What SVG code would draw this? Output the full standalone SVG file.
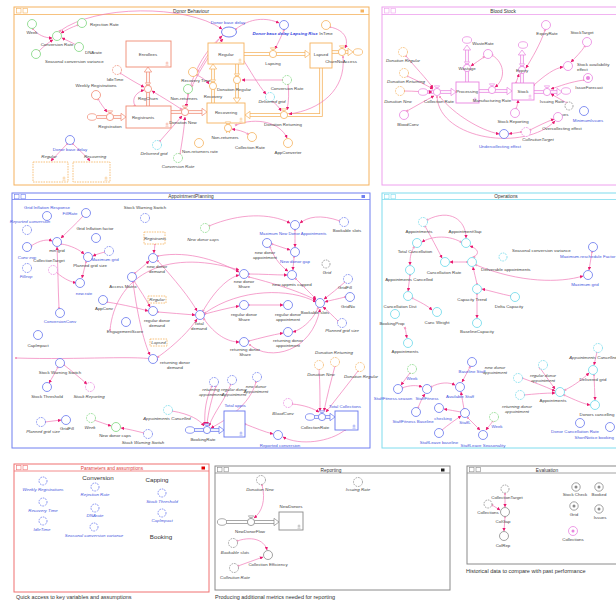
<svg xmlns="http://www.w3.org/2000/svg" width="616" height="602" viewBox="0 0 616 602">
<defs>
<style>
text{font-family:"Liberation Sans",Arial,sans-serif;font-size:4.4px;fill:#444;text-anchor:middle}
.s{text-anchor:start}
.e{text-anchor:end}
.b{fill:#4455dd}
.i{font-style:italic}
.bb{font-weight:bold;font-style:italic;fill:#3344dd}
.ttl{font-size:4.8px;fill:#333}
.hd{font-size:6.2px;fill:#333}
.cap{font-size:5.5px;fill:#333;text-anchor:start}
circle.n{fill:#fff;stroke-width:0.8}
.d{stroke-dasharray:1.6 1}
.cb{stroke:#6676ee}.cc{stroke:#6ad8ea}.cg{stroke:#7ed67e}.co{stroke:#f5b25e}.cp{stroke:#e884e0}.cs{stroke:#f08a72}.ck{stroke:#8a8a8a}
.k{fill:none;stroke:#f07ab8;stroke-width:0.7;marker-start:url(#o);marker-end:url(#a)}
.st{fill:#fff;stroke-width:0.9;stroke:currentColor}
.po{fill:none;stroke:currentColor;stroke-width:3.4}
.pi{fill:none;stroke:#fff;stroke-width:1.8}
.ah{fill:#fff;stroke:currentColor;stroke-width:0.7}
.fb{fill:#fff;stroke:currentColor;stroke-width:1}
.fl{stroke:currentColor;stroke-width:0.8}
.ic{fill:none;stroke:currentColor;stroke-width:0.6}
</style>
<marker id="a" viewBox="0 0 6 6" refX="5.5" refY="3" markerWidth="3.4" markerHeight="3.4" markerUnits="userSpaceOnUse" orient="auto"><path d="M0,0L6,3L0,6z" fill="#e8186e"/></marker>
<marker id="o" viewBox="0 0 6 6" refX="3" refY="3" markerWidth="2.6" markerHeight="2.6" markerUnits="userSpaceOnUse" orient="auto"><circle cx="3" cy="3" r="2.2" fill="#fff" stroke="#e8186e" stroke-width="1"/></marker>
<g id="v"><path d="M-2.6,-6.2h5.2l-1,1.6h-3.2z" fill="#fff" stroke="currentColor" stroke-width="0.6"/><path d="M0,-4.6v1" stroke="currentColor" stroke-width="0.6"/><circle r="3.6" fill="#fff" stroke="currentColor" stroke-width="0.8"/></g>
<g id="cl"><ellipse rx="4.6" ry="3.3" fill="#fff" stroke="currentColor" stroke-width="0.7"/></g>
<g id="sm"><path d="M-1.5,0h3M0,-1.5v3M-1.5,2.2h3" stroke="currentColor" stroke-width="0.5" fill="none"/></g>
</defs>
<rect width="616" height="602" fill="#fff"/>

<!-- FRAMES -->
<g id="frame-donor" style="color:#f5b25e">
<rect class="fb" x="14" y="7" width="355" height="178"/>
<line class="fl" x1="14" y1="14.5" x2="369" y2="14.5"/>
<rect class="ic" x="16.5" y="8.5" width="4.5" height="4.5"/><rect class="ic" x="23" y="8.5" width="4.5" height="4.5"/>
<text class="ttl" x="191" y="12.8">Donor Behaviour</text>
<rect x="360.5" y="9.5" width="3.5" height="3" fill="currentColor"/>
</g>
<g id="frame-blood" style="color:#eea0ee">
<rect class="fb" x="382" y="7" width="245" height="178"/>
<line class="fl" x1="382" y1="14.5" x2="627" y2="14.5"/>
<rect class="ic" x="384.5" y="8.5" width="4.5" height="4.5"/><rect class="ic" x="391" y="8.5" width="4.5" height="4.5"/>
<text class="ttl" x="503" y="12.8">Blood Stock</text>
</g>
<g id="frame-appt" style="color:#6f7ff0">
<rect class="fb" x="12" y="193" width="358" height="255"/>
<line class="fl" x1="12" y1="199.5" x2="370" y2="199.5"/>
<rect class="ic" x="14.5" y="194.3" width="4.5" height="4.5"/><rect class="ic" x="21" y="194.3" width="4.5" height="4.5"/>
<text class="ttl" x="191" y="198.2">AppointmentPlanning</text>
<rect x="361.5" y="195" width="3.5" height="3" fill="currentColor"/>
</g>
<g id="frame-ops" style="color:#7fdcee">
<rect class="fb" x="382" y="193" width="245" height="255"/>
<line class="fl" x1="382" y1="199.5" x2="627" y2="199.5"/>
<rect class="ic" x="384.5" y="194.3" width="4.5" height="4.5"/><rect class="ic" x="391" y="194.3" width="4.5" height="4.5"/>
<text class="ttl" x="506" y="198.2">Operations</text>
</g>
<g id="frame-params" style="color:#f07070">
<rect class="fb" x="14" y="464" width="195" height="128"/>
<line class="fl" x1="14" y1="471" x2="209" y2="471"/>
<rect class="ic" x="16.5" y="465.3" width="4.5" height="4.5"/><rect class="ic" x="23" y="465.3" width="4.5" height="4.5"/>
<text class="ttl" x="112" y="469.5" style="fill:#e04040">Parameters and assumptions</text>
<rect x="201.5" y="466.5" width="3.5" height="3" fill="#e00000"/>
</g>
<g id="frame-report" style="color:#8a8a8a">
<rect class="fb" x="215" y="466" width="235" height="124"/>
<line class="fl" x1="215" y1="473" x2="450" y2="473"/>
<rect class="ic" x="217.5" y="467.3" width="4.5" height="4.5"/><rect class="ic" x="224" y="467.3" width="4.5" height="4.5"/>
<text class="ttl" x="331" y="471.5">Reporting</text>
<rect x="441" y="468.5" width="3.5" height="3" fill="#222"/>
</g>
<g id="frame-eval" style="color:#8a8a8a">
<rect class="fb" x="467" y="466" width="160" height="98"/>
<line class="fl" x1="467" y1="473" x2="627" y2="473"/>
<rect class="ic" x="469.5" y="467.3" width="4.5" height="4.5"/><rect class="ic" x="476" y="467.3" width="4.5" height="4.5"/>
<text class="ttl" x="547" y="471.5">Evaluation</text>
</g>
<text class="cap" x="16" y="599">Quick access to key variables and assumptions</text>
<text class="cap" x="215" y="599">Producing additional metrics needed for reporting</text>
<text class="cap" x="466" y="573">Historical data to compare with past performance</text>

<!-- FLOW PIPES -->
<g id="pipes">
<g style="color:#f08a72">
<path class="po" d="M148,106V72"/><path class="pi" d="M148,106V72"/><polygon class="ah" points="144.3,72 151.7,72 148,67"/>
<path class="po" d="M97,117H121"/><path class="pi" d="M97,117H121"/><polygon class="ah" points="121,113.3 121,120.7 126,117"/>
<path class="po" d="M171,112H202"/><path class="pi" d="M171,112H202"/><polygon class="ah" points="202,108.3 202,115.7 207,112"/>
</g>
<g style="color:#f5b25e">
<path class="po" d="M244,54H305"/><path class="pi" d="M244,54H305"/><polygon class="ah" points="305,50.3 305,57.7 310,54"/>
<path class="po" d="M332,52H348"/><path class="pi" d="M332,52H348"/><polygon class="ah" points="348,48.3 348,55.7 353,52"/>
<path class="po" d="M213,103V69"/><path class="pi" d="M213,103V69"/><polygon class="ah" points="209.3,69 216.7,69 213,64"/>
<path class="po" d="M237,64V98"/><path class="pi" d="M237,64V98"/><polygon class="ah" points="233.3,98 240.7,98 237,103"/>
<path class="po" d="M321,68V115H250"/><path class="pi" d="M321,68V115H250"/><polygon class="ah" points="250,111.3 250,118.7 245,115"/>
<path class="po" d="M228,123V133"/><path class="pi" d="M228,123V133"/>
</g>
<g style="color:#e884e0">
<path class="po" d="M427,92H451"/><path class="pi" d="M427,92H451"/><polygon class="ah" points="451,88.3 451,95.7 456,92"/>
<path class="po" d="M467,82V50"/><path class="pi" d="M467,82V50"/><polygon class="ah" points="463.3,50 470.7,50 467,45"/>
<path class="po" d="M479,91H507"/><path class="pi" d="M479,91H507"/><polygon class="ah" points="507,87.3 507,94.7 512,91"/>
<path class="po" d="M522,83V55"/><path class="pi" d="M522,83V55"/><polygon class="ah" points="518.3,55 525.7,55 522,50"/>
<path class="po" d="M534,92H557"/><path class="pi" d="M534,92H557"/><polygon class="ah" points="557,88.3 557,95.7 562,92"/>
</g>
<g style="color:#6676ee">
<path class="po" d="M194,430H219"/><path class="pi" d="M194,430H219"/><polygon class="ah" points="219,426.3 219,433.7 224,430"/>
<path class="po" d="M314,417H330"/><path class="pi" d="M314,417H330"/><polygon class="ah" points="330,413.3 330,420.7 335,417"/>
</g>
<g style="color:#8a8a8a">
<path class="po" d="M226,522H274"/><path class="pi" d="M226,522H274"/><polygon class="ah" points="274,518.3 274,525.7 279,522"/>
</g>
</g>

<!-- CONNECTORS -->
<g id="connectors">
<path class="k" d="M33,29C38,35 45,38 52,38"/>
<path class="k" d="M78,25C72,27 66,30 61,33"/>
<path class="k" d="M76,45C71,42 66,40 62,38"/>
<path class="k" d="M39,51C44,46 49,42 53,40"/>
<path class="k" d="M60,31C95,5 185,4 222,29"/>
<path class="k" d="M223,35C200,55 190,80 186,107"/>
<path class="k" d="M198,71C205,60 213,45 222,36"/>
<path class="k" d="M192,86C200,70 212,50 223,39"/>
<path class="k" d="M197,75C203,78 207,81 209,84"/>
<path class="k" d="M236,29C250,18 266,17 279,23"/>
<path class="k" d="M284,30C281,37 278,43 275,49"/>
<path class="k" d="M330,27C345,30 349,40 345,48"/>
<path class="k" d="M343,57C346,90 320,110 289,114"/>
<path class="k" d="M120,73C128,78 136,83 144,87"/>
<path class="k" d="M135,106C131,98 137,92 144,90"/>
<path class="k" d="M181,109C172,103 162,97 152,91"/>
<path class="k" d="M98,99C101,104 104,108 107,112"/>
<path class="k" d="M160,141C167,133 175,124 182,116"/>
<path class="k" d="M180,154C182,142 184,130 185,117"/>
<path class="k" d="M188,94C188,98 187,102 186,107"/>
<path class="k" d="M283,80C270,80 255,80 242,80"/>
<path class="k" d="M288,84C289,92 289,100 287,110"/>
<path class="k" d="M272,101C276,104 279,107 281,111"/>
<path class="k" d="M242,58C250,70 258,85 266,94"/>
<path class="k" d="M236,125C256,117 280,122 287,138"/>
<path class="k" d="M248,134C243,131 238,130 232,129"/>
<path class="k" d="M67,144C62,150 56,155 51,161"/>
<path class="k" d="M73,144C79,150 85,155 90,161"/>

<path class="k" d="M406,56C415,67 426,78 433,88"/>
<path class="k" d="M407,76C416,80 426,85 433,89"/>
<path class="k" d="M404,91C414,91 423,92 432,92"/>
<path class="k" d="M407,111C416,106 426,100 434,96"/>
<path class="k" d="M484,57C480,60 475,63 471,66"/>
<path class="k" d="M492,55C506,64 505,80 495,87"/>
<path class="k" d="M545,30C540,45 532,58 526,68"/>
<path class="k" d="M585,46C581,52 576,57 571,62"/>
<path class="k" d="M534,85C545,75 555,68 563,67"/>
<path class="k" d="M516,83C517,80 518,77 519,74"/>
<path class="k" d="M516,109C517,106 518,103 518,100"/>
<path class="k" d="M584,80C570,82 560,86 551,89"/>
<path class="k" d="M567,103C562,100 556,97 551,94"/>
<path class="k" d="M440,97C455,115 480,130 499,134"/>
<path class="k" d="M437,97C440,140 525,152 555,121"/>
<path class="k" d="M521,132C517,133 513,133 509,134"/>
<path class="k" d="M530,130C538,126 546,122 554,119"/>

<path class="k" d="M83,216C76,224 68,231 61,238"/>
<path class="k" d="M31,246C40,240 48,239 52,241"/>
<path class="k" d="M61,244C70,245 80,250 84,254"/>
<path class="k" d="M105,252C101,253 97,254 93,256"/>
<path class="k" d="M56,272C65,280 72,282 76,283"/>
<path class="k" d="M59,308C58,288 58,268 57,247"/>
<path class="k" d="M86,262C85,267 83,273 82,278"/>
<path class="k" d="M155,244C155,247 154,250 154,253"/>
<path class="k" d="M135,273C140,269 145,265 149,261"/>
<path class="k" d="M134,281C140,290 146,299 150,307"/>
<path class="k" d="M133,282C138,320 145,345 150,355"/>
<path class="k" d="M158,261C175,280 190,298 197,311"/>
<path class="k" d="M158,312C170,313 183,314 195,315"/>
<path class="k" d="M158,357C175,345 190,330 197,319"/>
<path class="k" d="M203,311C215,290 228,278 239,275"/>
<path class="k" d="M205,314C216,311 228,308 239,306"/>
<path class="k" d="M204,319C215,335 228,342 239,342"/>
<path class="k" d="M158,256C190,250 220,262 239,272"/>
<path class="k" d="M110,330C115,280 160,246 239,270"/>
<path class="k" d="M107,302C125,305 138,308 148,311"/>
<path class="k" d="M249,274C262,274 275,275 287,275"/>
<path class="k" d="M270,247C275,260 283,268 288,271"/>
<path class="k" d="M294,257C294,261 293,265 293,270"/>
<path class="k" d="M272,244C278,246 284,248 290,250"/>
<path class="k" d="M295,230C295,236 295,241 295,247"/>
<path class="k" d="M209,226C240,213 270,213 290,223"/>
<path class="k" d="M340,221C320,214 308,217 300,223"/>
<path class="k" d="M249,305C260,305 272,305 283,305"/>
<path class="k" d="M249,341C260,338 272,335 283,333"/>
<path class="k" d="M345,282C338,288 331,294 324,299"/>
<path class="k" d="M345,297C338,299 331,300 325,302"/>
<path class="k" d="M338,321C333,316 328,311 323,307"/>
<path class="k" d="M296,279C303,286 310,293 316,299"/>
<path class="k" d="M249,277C280,285 300,292 316,300"/>
<path class="k" d="M205,313C240,288 290,288 316,302"/>
<path class="k" d="M318,308C312,322 300,330 293,332"/>
<path class="k" d="M250,345C270,362 312,352 320,309"/>
<path class="k" d="M16,358C80,360 140,355 158,360"/>
<path class="k" d="M58,367C55,373 52,378 49,383"/>
<path class="k" d="M64,365C72,371 80,378 87,384"/>
<path class="k" d="M45,422C50,421 56,421 61,420"/>
<path class="k" d="M94,420C100,422 105,424 111,426"/>
<path class="k" d="M144,433C136,431 128,429 121,428"/>
<path class="k" d="M172,411C190,414 200,420 204,426"/>
<path class="k" d="M212,386C206,398 204,412 205,425"/>
<path class="k" d="M216,386C212,398 208,412 207,425"/>
<path class="k" d="M231,384C225,400 214,412 209,426"/>
<path class="k" d="M256,382C250,405 226,420 211,428"/>
<path class="k" d="M292,404C305,405 314,409 319,412"/>
<path class="k" d="M319,369C320,383 320,397 320,411"/>
<path class="k" d="M335,366C331,381 327,396 324,411"/>
<path class="k" d="M358,371C348,384 337,398 326,412"/>
<path class="k" d="M245,424C255,428 265,432 273,434"/>
<path class="k" d="M345,430C330,442 300,446 283,437"/>

<path class="k" d="M427,220C450,208 466,220 466,238"/>
<path class="k" d="M425,226C431,237 437,248 442,258"/>
<path class="k" d="M461,242C446,234 430,237 422,242"/>
<path class="k" d="M414,247C410,254 410,259 410,265"/>
<path class="k" d="M467,262C461,262 456,262 450,262"/>
<path class="k" d="M474,257C480,253 478,249 470,246"/>
<path class="k" d="M477,284C476,278 474,273 473,267"/>
<path class="k" d="M511,296C501,294 491,291 482,289"/>
<path class="k" d="M476,265C520,283 560,283 583,276"/>
<path class="k" d="M592,252C591,258 590,264 589,270"/>
<path class="k" d="M410,275C409,280 409,286 408,291"/>
<path class="k" d="M412,298C420,302 428,306 432,310"/>
<path class="k" d="M477,294C477,302 477,310 477,318"/>
<path class="k" d="M405,328C406,331 406,334 407,338"/>
<path class="k" d="M410,373C407,377 404,381 401,385"/>
<path class="k" d="M402,388C410,385 417,385 422,387"/>
<path class="k" d="M431,387C440,382 449,382 455,385"/>
<path class="k" d="M418,408C420,403 422,398 425,394"/>
<path class="k" d="M470,367C467,372 465,377 462,382"/>
<path class="k" d="M464,409C463,403 462,398 461,392"/>
<path class="k" d="M461,412C455,411 450,410 444,409"/>
<path class="k" d="M442,430C448,425 455,420 461,416"/>
<path class="k" d="M493,421C491,424 488,427 486,430"/>
<path class="k" d="M468,418C472,422 476,426 480,430"/>
<path class="k" d="M540,368C545,375 550,382 555,389"/>
<path class="k" d="M522,378C533,382 544,386 555,391"/>
<path class="k" d="M524,395C534,394 545,393 555,393"/>
<path class="k" d="M565,390C575,385 584,378 589,373"/>
<path class="k" d="M597,352C596,356 595,361 594,365"/>
<path class="k" d="M564,395C575,400 584,404 590,405"/>
<path class="k" d="M594,375C594,383 595,392 595,400"/>

<path class="k" d="M262,485C266,500 262,512 254,518"/>
<path class="k" d="M237,541C255,535 265,542 267,550"/>
<path class="k" d="M238,566C246,563 255,560 263,557"/>
<path class="k" d="M505,494C505,498 505,503 505,507"/>
<path class="k" d="M492,505C495,507 497,508 500,510"/>
<path class="k" d="M505,517C505,522 504,526 504,531"/>
</g>

<!-- DONOR BEHAVIOUR NODES -->
<g id="n-week"><circle class="n cg" cx="32" cy="24" r="4.5"/><text x="32" y="33.5">Week</text></g>
<g id="n-rejection"><circle class="n cg" cx="82" cy="23" r="4.5"/><text class="s" x="90" y="25.5">Rejection Rate</text></g>
<g id="n-conversion"><circle class="n cg" cx="57" cy="36" r="4.5"/><text x="57" y="46">Conversion Rate</text></g>
<g id="n-dna"><circle class="n cg" cx="79" cy="47" r="4.5"/><text class="s" x="85" y="53.5">DNArate</text></g>
<g id="n-seasonal"><circle class="n cg" cx="36" cy="54" r="4.5"/><text class="s" x="45" y="63">Seasonal conversion variance</text></g>
<g id="n-enrollees" style="color:#f08a72"><rect class="st" x="126" y="41" width="45" height="26"/><use href="#sm" x="167" y="63"/><text x="148" y="55.5">Enrollees</text></g>
<g id="n-idle"><circle class="n cs d" cx="117" cy="70" r="4.5"/><text x="115" y="81">IdleTime</text></g>
<g id="n-weeklyreg"><circle class="n cs" cx="96" cy="95" r="4.5"/><text x="96" y="86.5">Weekly Registrations</text></g>
<g id="n-regchurn" style="color:#f08a72"><use href="#v" x="148" y="89"/><text x="148" y="99.5">RegChurn</text></g>
<g id="n-registration" style="color:#f08a72"><use href="#cl" x="92" y="117"/><use href="#v" x="110" y="117"/><text x="110" y="128">Registration</text></g>
<g id="n-registrants" style="color:#f08a72"><rect class="st" x="126" y="106" width="45" height="22"/><use href="#sm" x="167" y="124"/><text x="143" y="118.5">Registrants</text></g>
<g id="n-donationnew" style="color:#f08a72"><use href="#v" x="185" y="112"/><text x="183" y="124">Donation New</text></g>
<g id="n-recoverytime"><circle class="n co" cx="193" cy="72" r="4.5"/><text x="196" y="81.5">Recovery Time</text></g>
<g id="n-nonret-g"><circle class="n cg" cx="188" cy="89" r="4.5"/><text x="184" y="99.5">Non-returners</text></g>
<g id="n-delgrid1"><circle class="n cc d" cx="157" cy="145" r="4.5"/><text class="i" x="154" y="154.5">Delivered grid</text></g>
<g id="n-convrate2"><circle class="n cg d" cx="178" cy="158" r="4.5"/><text class="i" x="178" y="168">Conversion Rate</text></g>
<g id="n-nonretrate"><circle class="n co" cx="199" cy="143" r="4.5"/><text x="200" y="153">Non-returners rate</text></g>
<g id="n-donorbasedelay"><ellipse cx="229" cy="32" rx="7.5" ry="5" fill="#fff" stroke="#6676ee" stroke-width="0.9"/><text class="b" x="228" y="24">Donor base delay</text></g>
<g id="n-lapsingrise"><circle class="n cb" cx="284" cy="25" r="4.5"/><text class="bb" x="285" y="35">Donor base delay Lapsing Rise</text></g>
<g id="n-intime"><circle class="n co" cx="326" cy="25" r="4.5"/><text x="326" y="35">InTime</text></g>
<g id="n-regular" style="color:#f5b25e"><rect class="st" x="208" y="43" width="36" height="21"/><use href="#sm" x="240" y="60"/><text x="226" y="55.5">Regular</text></g>
<g id="n-lapsing" style="color:#f5b25e"><use href="#v" x="273" y="54"/><text x="273" y="65">Lapsing</text></g>
<g id="n-lapsed" style="color:#f5b25e"><rect class="st" x="310" y="43" width="22" height="25"/><text x="321" y="55.5">Lapsed</text></g>
<g id="n-churn" style="color:#f5b25e"><use href="#v" x="342" y="52"/><use href="#cl" x="358" y="52"/><text x="341" y="63">ChurnNoAccess</text></g>
<g id="n-recovery" style="color:#f5b25e"><use href="#v" x="213" y="86"/><text x="213" y="97.5">Recovery</text></g>
<g id="n-donreg" style="color:#f5b25e"><use href="#v" x="237" y="80"/><text x="234" y="90.5">Donation Regular</text></g>
<g id="n-convrate3"><circle class="n cg d" cx="287" cy="80" r="4.5"/><text x="287" y="90">Conversion Rate</text></g>
<g id="n-delgrid2"><circle class="n cc d" cx="270" cy="97" r="4.5"/><text class="i" x="272" y="102.5">Delivered grid</text></g>
<g id="n-recovering" style="color:#f5b25e"><rect class="st" x="207" y="103" width="38" height="20"/><use href="#sm" x="241" y="119"/><text x="226" y="113.5">Recovering</text></g>
<g id="n-donret" style="color:#f5b25e"><use href="#v" x="284" y="115"/><text x="283" y="126">Donation Returning</text></g>
<g id="n-nonret" style="color:#f5b25e"><use href="#v" x="228" y="128"/><text x="225" y="139">Non-returners</text></g>
<g id="n-colrate"><circle class="n co" cx="252" cy="137" r="4.5"/><text x="250" y="149">Collection Rate</text></g>
<g id="n-appconverter"><circle class="n co" cx="288" cy="143" r="4.5"/><text x="288" y="154">AppConverter</text></g>
<g id="n-dbd2"><circle class="n cb" cx="70" cy="140" r="4.5"/><text class="b" x="70" y="151">Donor base delay</text></g>
<g id="n-reg-ghost" style="color:#f5b25e"><text class="i" x="49" y="158">Regular</text><rect x="33" y="162" width="35" height="20" fill="#fff" stroke="currentColor" stroke-width="0.8" class="d"/><use href="#sm" x="64" y="178"/></g>
<g id="n-rec-ghost" style="color:#f5b25e"><text class="i" x="95" y="158">Recovering</text><rect x="73" y="162" width="37" height="20" fill="#fff" stroke="currentColor" stroke-width="0.8" class="d"/><use href="#sm" x="106" y="178"/></g>

<!-- BLOOD STOCK NODES -->
<g id="b-donreg"><circle class="n co d" cx="403" cy="52" r="4.5"/><text class="i" x="403" y="62">Donation Regular</text></g>
<g id="b-donret"><circle class="n co d" cx="404" cy="73" r="4.5"/><text class="i" x="406" y="83">Donation Returning</text></g>
<g id="b-donnew"><circle class="n co d" cx="400" cy="91" r="4.5"/><text class="i" x="398" y="103">Donation New</text></g>
<g id="b-bloodconv"><circle class="n cp" cx="404" cy="115" r="4.5"/><text x="408" y="126">BloodConv</text></g>
<g id="b-colrate" style="color:#e884e0"><use href="#cl" x="423" y="92"/><use href="#v" x="437" y="92"/><text x="439" y="103">Collection Rate</text></g>
<g id="b-processing" style="color:#e884e0"><rect class="st" x="456" y="82" width="23" height="21"/><use href="#sm" x="475" y="99"/><text x="467" y="93">Processing</text></g>
<g id="b-wastage" style="color:#e884e0"><use href="#cl" x="467" y="40"/><use href="#v" x="467" y="68"/><text x="467" y="70">Wastage</text></g>
<g id="b-wasterate"><circle class="n cp" cx="488" cy="54" r="4.5"/><text x="483" y="45">WasteRate</text></g>
<g id="b-manu" style="color:#e884e0"><use href="#v" x="492" y="90"/><text x="492" y="102">Manufacturing Rate</text></g>
<g id="b-stock" style="color:#e884e0"><rect class="st" x="512" y="83" width="22" height="17"/><use href="#sm" x="530" y="96"/><text x="523" y="93">Stock</text></g>
<g id="b-expiry" style="color:#e884e0"><use href="#cl" x="523" y="45"/><use href="#v" x="522" y="70"/><text x="522" y="72">Expiry</text></g>
<g id="b-expiryrate"><circle class="n cp" cx="546" cy="25" r="4.5"/><text x="547" y="35">ExpiryRate</text></g>
<g id="b-stocktarget"><circle class="n cp" cx="587" cy="42" r="4.5"/><text x="582" y="34">StockTarget</text></g>
<g id="b-stockavail"><circle class="n cp" cx="568" cy="66" r="4.5"/><text class="s" x="577" y="66">Stock availability</text><text class="s" x="577" y="71">effect</text></g>
<g id="b-issueforecast"><circle class="n cp" cx="588" cy="78" r="4.5"/><circle cx="588" cy="78" r="2" fill="#e884e0"/><text x="589" y="89">IssueForecast</text></g>
<g id="b-issuing" style="color:#e884e0"><use href="#v" x="547" y="92"/><use href="#cl" x="566" y="91"/><text x="552" y="103">Issuing Rate</text></g>
<g id="b-issues"><circle class="n ck d" cx="569" cy="106" r="4"/><text x="562" y="116">Issues</text></g>
<g id="b-miniss"><circle class="n cb" cx="584" cy="111" r="4.5"/><text class="b" x="588" y="122">MinimumIssues</text></g>
<g id="b-stockrep"><circle class="n cp" cx="515" cy="113" r="4.5"/><text x="513" y="122.5">Stock Reporting</text></g>
<g id="b-under"><circle class="n cb" cx="504" cy="134" r="4.5"/><text class="b" x="500" y="147.5">Undercollecting effect</text></g>
<g id="b-coltarget"><circle class="n cp d" cx="526" cy="132" r="4.5"/><text class="i" x="538" y="140.5">CollectionTarget</text></g>
<g id="b-over"><circle class="n cp" cx="558" cy="117" r="4.5"/><text x="562" y="130">Overcollecting effect</text></g>

<!-- APPOINTMENT PLANNING NODES -->
<g id="a-gir"><circle class="n cb" cx="47" cy="216" r="4.5"/><text class="b" x="47" y="209">Grid Inflation Response</text></g>
<g id="a-fillrate"><circle class="n cb" cx="86" cy="213" r="4.5"/><text class="b" x="70" y="214.5">FillRate</text></g>
<g id="a-repconv"><circle class="n cb d" cx="27" cy="230" r="4.5"/><text class="b i" x="30" y="222.5">Reported conversion</text></g>
<g id="a-convexp"><circle class="n cb" cx="27" cy="247" r="4.5"/><text class="b i" x="27" y="259">Conv exp</text></g>
<g id="a-fillexp"><circle class="n cb d" cx="27" cy="268" r="4.5"/><text class="b i" x="26" y="278">Fillexp</text></g>
<g id="a-mingrid"><circle class="n cb" cx="57" cy="242" r="4.5"/><text x="57" y="252">min grid</text></g>
<g id="a-coltarget"><circle class="n cp d" cx="53" cy="270" r="4.5"/><text x="49" y="262">CollectionTarget</text></g>
<g id="a-gif"><circle class="n cb" cx="96" cy="238" r="4.5"/><text x="95" y="230">Grid Inflation factor</text></g>
<g id="a-pgs"><circle class="n cb" cx="88" cy="257" r="4.5"/><text x="90" y="267">Planned grid size</text></g>
<g id="a-maxgrid"><circle class="n cb d" cx="109" cy="251" r="4.5"/><text class="b" x="105" y="261">Maximum grid</text></g>
<g id="a-newrate"><circle class="n cb" cx="80" cy="283" r="4.5"/><text class="b" x="84" y="295">new.rate</text></g>
<g id="a-appconv"><circle class="n cb" cx="103" cy="300" r="4.5"/><text x="104" y="310">AppConv</text></g>
<g id="a-convconv"><circle class="n cb" cx="60" cy="313" r="4.5"/><text class="b" x="60" y="323">ConversionConv</text></g>
<g id="a-sws1"><circle class="n cb d" cx="145" cy="218" r="4.5"/><text x="145" y="209">Stock Warning Switch</text></g>
<g id="a-registrants" style="color:#f5b25e"><rect x="144" y="232" width="21" height="12" fill="#fff" stroke="currentColor" stroke-width="0.8" class="d"/><text class="i" x="155" y="239.5">Registrants</text></g>
<g id="a-ndd"><circle class="n cb" cx="153" cy="258" r="4.5"/><text x="157" y="268">new donor</text><text x="157" y="273">demand</text></g>
<g id="a-access"><circle class="n cb" cx="132" cy="277" r="4.5"/><text x="123" y="288">Access Matrix</text></g>
<g id="a-regular" style="color:#f5b25e"><rect x="148" y="296" width="18" height="7" fill="#fff" stroke="currentColor" stroke-width="0.8" class="d"/><text class="i" x="157" y="301.3">Regular</text></g>
<g id="a-rdd"><circle class="n cb" cx="153" cy="311" r="4.5"/><text x="157" y="322">regular donor</text><text x="157" y="327">demand</text></g>
<g id="a-engage"><circle class="n cb" cx="126" cy="322" r="4.5"/><text x="125" y="333">EngagementScore</text></g>
<g id="a-total"><circle class="n cb" cx="200" cy="315" r="4.5"/><text x="199" y="324.5">Total</text><text x="199" y="329.5">demand</text></g>
<g id="a-lapsed" style="color:#f5b25e"><rect x="150" y="339" width="17" height="7" fill="#fff" stroke="currentColor" stroke-width="0.8" class="d"/><text class="i" x="158.5" y="344.3">Lapsed</text></g>
<g id="a-retdd"><circle class="n cb" cx="153" cy="359" r="4.5"/><text x="175" y="364">returning donor</text><text x="175" y="369">demand</text></g>
<g id="a-capimpact"><circle class="n cb" cx="38" cy="335" r="4.5"/><text x="38" y="347">CapImpact</text></g>
<g id="a-sws2"><circle class="n cb" cx="60" cy="363" r="4.5"/><text x="60" y="374">Stock Warning Switch</text></g>
<g id="a-stockthr"><circle class="n cb" cx="47" cy="387" r="4.5"/><text x="47" y="398">Stock Threshold</text></g>
<g id="a-stockrep"><circle class="n cp d" cx="90" cy="387" r="4.5"/><text class="i" x="89" y="398">Stock Reporting</text></g>
<g id="a-pgs2"><circle class="n cb d" cx="41" cy="422" r="4.5"/><text class="i" x="43" y="433">Planned grid size</text></g>
<g id="a-gridfill1"><circle class="n cb" cx="66" cy="420" r="4.5"/><text x="67" y="430">GridFill</text></g>
<g id="a-week"><circle class="n cg d" cx="91" cy="418" r="4.5"/><text class="i" x="90" y="429">Week</text></g>
<g id="a-ndc1"><circle class="n cg" cx="116" cy="427" r="4.5"/><text x="115" y="437">New donor caps</text></g>
<g id="a-sws3"><circle class="n cb d" cx="148" cy="434" r="4.5"/><text class="i" x="143" y="444">Stock Warning Switch</text></g>
<g id="a-apcanc"><circle class="n cc d" cx="168" cy="410" r="4.5"/><text class="i" x="167" y="420">Appointments Cancelled</text></g>
<g id="a-ndc2"><circle class="n cg d" cx="205" cy="228" r="4.5"/><text class="i" x="203" y="241">New donor caps</text></g>
<g id="a-mnda"><circle class="n cb" cx="295" cy="225" r="4.5"/><text class="b" x="293" y="235" style="font-size:4.2px">Maximum New Donor Appointments</text></g>
<g id="a-bookable1"><circle class="n cb d" cx="344" cy="222" r="4.5"/><text x="347" y="232">Bookable slots</text></g>
<g id="a-nda"><circle class="n cb" cx="267" cy="243" r="4.5"/><text x="265" y="254">new donor</text><text x="265" y="259">appointment</text></g>
<g id="a-ndgap"><circle class="n cb" cx="295" cy="252" r="4.5"/><text class="b" x="295" y="263">New donor gap</text></g>
<g id="a-grid"><circle class="n ck d" cx="326" cy="264" r="4"/><text class="i" x="327" y="274">Grid</text></g>
<g id="a-nds"><circle class="n cb" cx="244" cy="274" r="4.5"/><text x="244" y="283">new donor</text><text x="244" y="288">Share</text></g>
<g id="a-nac"><circle class="n cb" cx="292" cy="275" r="4.5"/><text x="292" y="286">new appmts capped</text></g>
<g id="a-gridfill2"><circle class="n cb d" cx="348" cy="279" r="4.5"/><text x="345" y="289">GridFill</text></g>
<g id="a-gridno"><circle class="n cb" cx="350" cy="297" r="4.5"/><text x="348" y="308">GridNo</text></g>
<g id="a-rds"><circle class="n cb" cx="244" cy="305" r="4.5"/><text x="244" y="316">regular donor</text><text x="244" y="321">Share</text></g>
<g id="a-rda"><circle class="n cb" cx="288" cy="305" r="4.5"/><text x="288" y="316">regular donor</text><text x="288" y="321">appointment</text></g>
<g id="a-bookable2"><circle class="n cb" cx="320" cy="303" r="4.5"/><text x="315" y="314">Bookable slots</text></g>
<g id="a-pgs3"><circle class="n cb d" cx="342" cy="323" r="4.5"/><text class="i" x="342" y="332">Planned grid size</text></g>
<g id="a-retds"><circle class="n cb" cx="244" cy="342" r="4.5"/><text x="245" y="350.5">returning donor</text><text x="245" y="355.5">Share</text></g>
<g id="a-retda"><circle class="n cb" cx="288" cy="332" r="4.5"/><text x="288" y="342">returning donor</text><text x="288" y="347">appointment</text></g>
<g id="a-donret"><circle class="n co d" cx="335" cy="362" r="4.5"/><text class="i" x="334" y="354">Donation Returning</text></g>
<g id="a-donnew"><circle class="n co d" cx="319" cy="365" r="4.5"/><text class="i" x="321" y="376">Donation New</text></g>
<g id="a-donreg"><circle class="n co d" cx="360" cy="367" r="4.5"/><text class="i" x="361" y="378">Donation Regular</text></g>
<g id="a-retapp"><circle class="n cb d" cx="214" cy="382" r="4.5"/><text class="i" x="211" y="391">returning</text><text class="i" x="211" y="395.5">appointment</text></g>
<g id="a-regapp"><circle class="n cb d" cx="232" cy="380" r="4.5"/><text class="i" x="234" y="391">regular donor</text><text class="i" x="234" y="395.5">Appointment</text></g>
<g id="a-newapp"><circle class="n cb d" cx="257" cy="377" r="4.5"/><text class="i" x="256" y="388">new donor</text><text class="i" x="256" y="392.5">Appointment</text></g>
<g id="a-bloodconv"><circle class="n cp d" cx="288" cy="403" r="4.5"/><text class="i" x="283" y="415">BloodConv</text></g>
<g id="a-totalappts" style="color:#6676ee"><rect class="st" x="224" y="411" width="21" height="26"/><use href="#sm" x="241" y="433"/><text class="b" x="235" y="407">Total appts</text></g>
<g id="a-bookingrate" style="color:#6676ee"><use href="#cl" x="190" y="430"/><use href="#v" x="207" y="430"/><text x="203" y="441">BookingRate</text></g>
<g id="a-repconv2"><circle class="n cb" cx="278" cy="435" r="4.5"/><text class="b" x="280" y="447">Reported conversion</text></g>
<g id="a-colrate" style="color:#6676ee"><use href="#cl" x="310" y="417"/><use href="#v" x="322" y="417"/><text x="315" y="429">CollectionRate</text></g>
<g id="a-totalcol" style="color:#6676ee"><rect class="st" x="335" y="411" width="23" height="19"/><use href="#sm" x="354" y="426"/><text class="b" x="345" y="408">Total Collections</text></g>

<!-- OPERATIONS NODES -->
<g id="o-appts1"><circle class="n cc d" cx="423" cy="222" r="4.5"/><text x="419" y="233">Appointments</text></g>
<g id="o-apgap"><circle class="n cc" cx="466" cy="243" r="4.5"/><text x="465" y="233">AppointmentGap</text></g>
<g id="o-totcanc"><circle class="n cc" cx="417" cy="243" r="4.5"/><text x="415" y="253">Total Cancellation</text></g>
<g id="o-cancrate"><circle class="n cc" cx="445" cy="262" r="4.5"/><text x="444" y="274">Cancellation Rate</text></g>
<g id="o-deliv"><circle class="n cc" cx="472" cy="262" r="4.5"/><text class="s" x="481" y="271">Deliverable appointments</text></g>
<g id="o-seasonal"><circle class="n cc d" cx="503" cy="257" r="4"/><text class="s" x="512" y="252">Seasonal conversion variance</text></g>
<g id="o-maxresch"><circle class="n cb" cx="593" cy="247" r="4.5"/><text class="b s" x="560" y="258">Maximum.reschedule Factor</text></g>
<g id="o-maxgrid"><circle class="n cb" cx="588" cy="275" r="4.5"/><text class="b" x="585" y="286">Maximum grid</text></g>
<g id="o-apcanc"><circle class="n cc" cx="410" cy="270" r="4.5"/><text x="409" y="281">Appointments Cancelled</text></g>
<g id="o-captrend"><circle class="n cc" cx="477" cy="289" r="4.5"/><text x="472" y="301">Capacity Trend</text></g>
<g id="o-deltacap"><circle class="n cc" cx="515" cy="297" r="4.5"/><text x="509" y="308">Delta Capacity</text></g>
<g id="o-cancdist"><circle class="n cc" cx="408" cy="296" r="4.5"/><text x="400" y="308">Cancellation Dist</text></g>
<g id="o-cancweight"><circle class="n cc" cx="437" cy="312" r="4.5"/><text x="437" y="324">Canc Weight</text></g>
<g id="o-bookprop"><circle class="n cc" cx="395" cy="314" r="4.5"/><text x="392" y="324.5">BookingProp</text></g>
<g id="o-basecap"><circle class="n cc" cx="477" cy="323" r="4.5"/><text x="477" y="333">BaselineCapacity</text></g>
<g id="o-appts2"><circle class="n cc" cx="408" cy="343" r="4.5"/><text x="405" y="353">Appointments</text></g>
<g id="o-week1"><circle class="n cg d" cx="412" cy="369" r="4.5"/><text class="b" x="412" y="380">Week</text></g>
<g id="o-sfseason"><circle class="n cb" cx="398" cy="389" r="4.5"/><text class="b" x="393" y="400">StaffFitness.season</text></g>
<g id="o-sf"><circle class="n cb" cx="427" cy="389" r="4.5"/><text class="b" x="427" y="400">StaffFitness</text></g>
<g id="o-sfbase"><circle class="n cb" cx="416" cy="412" r="4.5"/><text class="b" x="413" y="423">StaffFitness Baseline</text></g>
<g id="o-basestaff"><circle class="n cb" cx="472" cy="362" r="4.5"/><text class="b" x="472" y="373">Baseline Staff</text></g>
<g id="o-ndalabel"><text class="i" x="495" y="369">new donor</text><text class="i" x="495" y="374">appointment</text></g>
<g id="o-avail"><circle class="n cb" cx="460" cy="387" r="4.5"/><text class="b" x="460" y="398">Available Staff</text></g>
<g id="o-checking"><circle class="n cb" cx="439" cy="408" r="4.5"/><text class="b" x="443" y="420">checking</text></g>
<g id="o-staffl"><circle class="n cb" cx="465" cy="413" r="4.5"/><text class="b" x="465" y="424">StaffL</text></g>
<g id="o-week2"><circle class="n cg d" cx="494" cy="417" r="4.5"/><text class="b" x="497" y="428">Week</text></g>
<g id="o-slbase"><circle class="n cb" cx="439" cy="433" r="4.5"/><text class="b" x="439" y="444">StaffLeave baseline</text></g>
<g id="o-slseason"><circle class="n cb" cx="483" cy="435" r="4.5"/><text class="b" x="483" y="447">StaffLeave Seasonality</text></g>
<g id="o-rda"><circle class="n cc d" cx="543" cy="365" r="4.5"/><text class="i" x="543" y="377">regular donor</text><text class="i" x="543" y="382">appointment</text></g>
<g id="o-nda"><circle class="n cc d" cx="518" cy="378" r="4.5"/></g>
<g id="o-retda"><circle class="n cc d" cx="520" cy="395" r="4.5"/><text class="i" x="517" y="408">returning donor</text><text class="i" x="517" y="413">appointment</text></g>
<g id="o-appts3"><circle class="n cc" cx="560" cy="392" r="4.5"/><text x="553" y="402">Appointments</text></g>
<g id="o-apcanc2"><circle class="n cc d" cx="598" cy="348" r="4.5"/><text class="i" x="593" y="359">Appointments Cancelled</text></g>
<g id="o-delgrid"><circle class="n cc" cx="593" cy="370" r="4.5"/><text x="593" y="381">Delivered grid</text></g>
<g id="o-donorscanc"><circle class="n cc" cx="595" cy="405" r="4.5"/><text x="597" y="416">Donors cancelling</text></g>
<g id="o-dcr"><circle class="n cb" cx="580" cy="423" r="4.5"/><text class="b" x="575" y="433">Donor Cancellation Rate</text></g>
<g id="o-shortnotice"><circle class="n cb" cx="610" cy="427" r="4.5"/><text class="b e" x="614" y="439">ShortNotice booking</text></g>

<!-- PARAMETERS -->
<g id="p-weeklyreg"><circle class="n cb d" cx="43" cy="481" r="4"/><text class="b i" x="43" y="490.5">Weekly Registrations</text></g>
<g id="p-rectime"><circle class="n cb d" cx="43" cy="502" r="4"/><text class="b i" x="43" y="511.5">Recovery Time</text></g>
<g id="p-idle"><circle class="n cb d" cx="43" cy="521" r="4"/><text class="b i" x="42" y="531">IdleTime</text></g>
<text class="hd" x="98" y="479.5">Conversion</text>
<g id="p-rej"><circle class="n cb d" cx="95" cy="487" r="4"/><text class="b i" x="95" y="495.5">Rejection Rate</text></g>
<g id="p-dna"><circle class="n cb d" cx="95" cy="508" r="4"/><text class="b i" x="95" y="516.5">DNArate</text></g>
<g id="p-seasonal"><circle class="n cb d" cx="94" cy="527" r="4"/><text class="b i" x="94" y="537">Seasonal conversion variance</text></g>
<text class="hd" x="157" y="481.5">Capping</text>
<g id="p-stockthr"><circle class="n cb d" cx="162" cy="493" r="4"/><text class="b i" x="162" y="503">Stock Threshold</text></g>
<g id="p-capimpact"><circle class="n cb d" cx="162" cy="513" r="4"/><text class="b i" x="162" y="522">CapImpact</text></g>
<text class="hd" x="161" y="538.5">Booking</text>

<!-- REPORTING -->
<g id="r-donnew"><circle class="n ck d" cx="261" cy="480" r="4.5"/><text class="i" x="260" y="491">Donation New</text></g>
<g id="r-issuing"><circle class="n ck d" cx="358" cy="482" r="4.5"/><text class="i" x="358" y="491">Issuing Rate</text></g>
<g id="r-newdonors" style="color:#8a8a8a"><text x="291" y="508">NewDonors</text><rect class="st" x="279" y="512" width="24" height="18"/><use href="#sm" x="299" y="526"/></g>
<g id="r-flow" style="color:#8a8a8a"><use href="#cl" x="222" y="522"/><use href="#v" x="251" y="522"/><text x="250" y="533">NewDonorFlow</text></g>
<g id="r-bookable"><circle class="n ck d" cx="233" cy="543" r="4.5"/><text class="i" x="235" y="554">Bookable slots</text></g>
<g id="r-coleff"><circle class="n ck" cx="268" cy="555" r="4.5"/><text x="268" y="566">Collection Efficiency</text></g>
<g id="r-colrate"><circle class="n ck d" cx="234" cy="568" r="4.5"/><text class="i" x="235" y="579">Collection Rate</text></g>

<!-- EVALUATION -->
<g id="e-coltarget"><circle class="n ck d" cx="505" cy="489" r="4"/><text x="507" y="499">CollectionTarget</text></g>
<g id="e-collections"><circle class="n ck d" cx="488" cy="504" r="4"/><text x="488" y="514">Collections</text></g>
<g id="e-colgap"><circle class="n ck" cx="505" cy="512" r="4.5"/><text x="503" y="523">ColGap</text></g>
<g id="e-colrep"><circle class="n ck" cx="504" cy="536" r="4.5"/><text x="503" y="547">ColRep</text></g>
<g id="e-stockcheck"><circle class="n ck" cx="576" cy="487" r="4.2"/><circle cx="576" cy="487" r="1.5" fill="#8a8a8a"/><text x="575" y="496">Stock Check</text></g>
<g id="e-booked"><circle class="n ck" cx="599" cy="487" r="4.2"/><circle cx="599" cy="487" r="1.5" fill="#8a8a8a"/><text x="599" y="496">Booked</text></g>
<g id="e-grid"><circle class="n ck" cx="574" cy="506" r="4.2"/><circle cx="574" cy="506" r="1.5" fill="#8a8a8a"/><text x="574" y="516">Grid</text></g>
<g id="e-issues"><circle class="n ck" cx="599" cy="509" r="4.2"/><circle cx="599" cy="509" r="1.5" fill="#8a8a8a"/><text x="600" y="519">Issues</text></g>
<g id="e-collections2"><circle class="n cp" cx="573" cy="531" r="4.5"/><circle cx="573" cy="531" r="1.5" fill="#e884e0"/><text x="573" y="541">Collections</text></g>
</svg>
